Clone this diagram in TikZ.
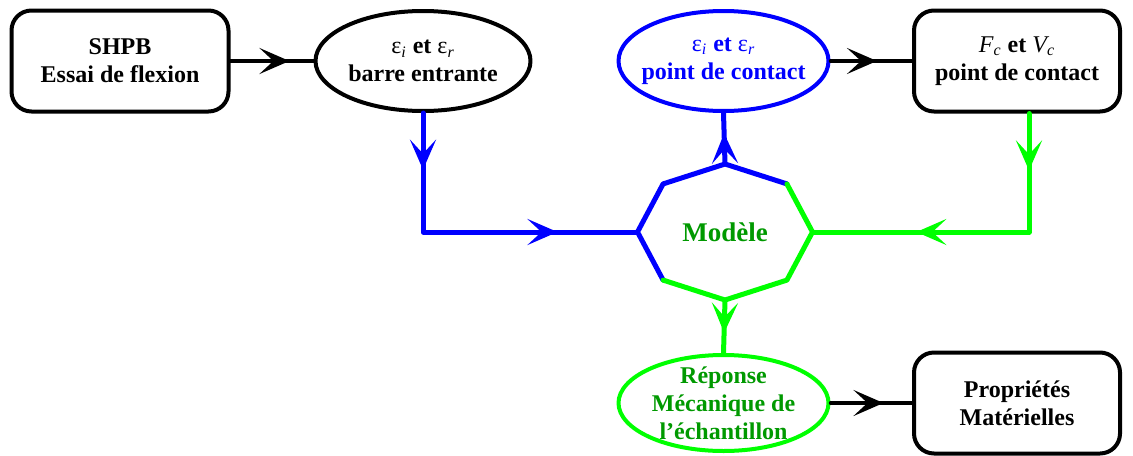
\documentclass[tikz,border=0pt]{standalone}
\usepackage{fontspec}
\setmainfont{Liberation Serif}
\usetikzlibrary{shapes.geometric,arrows.meta,decorations.markings,calc}
\definecolor{qqqqff}{rgb}{0.,0.,1.}
\definecolor{qqffqq}{rgb}{0.,1.,0.}
\definecolor{qqzzqq}{rgb}{0.,0.6,0.}
\newcommand{\epsind}[1]{{\mdseries ε\textsubscript{\itshape #1}}}
\newcommand{\pointe}{\arrow{Stealth[length=15pt,width=13pt,inset=7pt]}}

\begin{document}
\begin{tikzpicture}[line cap=round,line join=round,x=0.5pt,y=-0.5pt,
  boite/.style={draw,line width=2pt,rounded corners=10pt,minimum width=103pt,minimum height=50.5pt,align=center,font=\fontsize{12}{14}\bfseries\selectfont},
  bulle/.style={draw,ellipse,line width=2pt,inner sep=0pt,minimum width=107.5pt,minimum height=50pt,align=center,font=\fontsize{12}{14}\bfseries\selectfont},
  fleche/.style={postaction={decorate},decoration={markings,mark=at position #1 with {\pointe}}},
  fleches/.style 2 args={postaction={decorate},decoration={markings,mark=at position #1 with {\pointe},mark=at position #2 with {\pointe}}},
  noir/.style={color=black,line width=1.75pt},
  bleu/.style={color=qqqqff,line width=2.5pt},
  vert/.style={color=qqffqq,line width=2.5pt}]
\useasboundingbox (0,0) rectangle (1133,455);
% boites et bulles
\node[boite,minimum width=108.5pt] (shpb) at (120,61) {SHPB\\Essai de flexion};
\node[bulle] (entree) at (423,61) {\epsind{i} et \epsind{r}\\barre entrante};
\node[bulle,color=qqqqff,minimum width=105pt,inner xsep=-4pt] (contact) at (723.5,61) {\epsind{i} et \epsind{r}\\point de contact};
\node[boite] (efforts) at (1017,61) {{\mdseries\itshape F\textsubscript{c}} et {\mdseries\itshape V\textsubscript{c}}\\point de contact};
\node[font=\fontsize{13.5}{15}\bfseries\selectfont,color=qqzzqq] (modele) at (725,232) {Modèle};
\node[bulle,draw=qqffqq,text=qqzzqq,minimum width=105pt,minimum height=48pt,inner ysep=-8pt] (reponse) at (723.5,403) {Réponse\\Mécanique de\\l’échantillon};
\node[boite] (proprietes) at (1017,403) {Propriétés\\Matérielles};
% octogone du modele
\coordinate (oE) at (812.5,232);
\coordinate (oNE) at (786.9,183.9);
\coordinate (oN) at (725,164);
\coordinate (oNW) at (663.1,183.9);
\coordinate (oW) at (637.5,232);
\coordinate (oSW) at (663.1,280.1);
\coordinate (oS) at (725,300);
\coordinate (oSE) at (786.9,280.1);
\draw[bleu] (oSW) -- (oW) -- (oNW) -- (oN) -- (oNE);
\draw[vert] (oNE) -- (oE) -- (oSE) -- (oS) -- (oSW);
% liaisons
\draw[noir,fleche=0.71] (shpb) -- (entree);
\draw[bleu,fleches={0.17}{0.76}] (entree.south) |- (oW);
\draw[bleu,fleche=0.6] (oN) -- (contact.south);
\draw[noir,fleche=0.57] (contact) -- (efforts);
\draw[vert,fleches={0.17}{0.69}] ($(efforts.south)+(12,0)$) |- (oE);
\draw[vert,fleche=0.62] (oS) -- (reponse.north);
\draw[noir,fleche=0.65] (reponse) -- (proprietes);
\end{tikzpicture}
\end{document}
